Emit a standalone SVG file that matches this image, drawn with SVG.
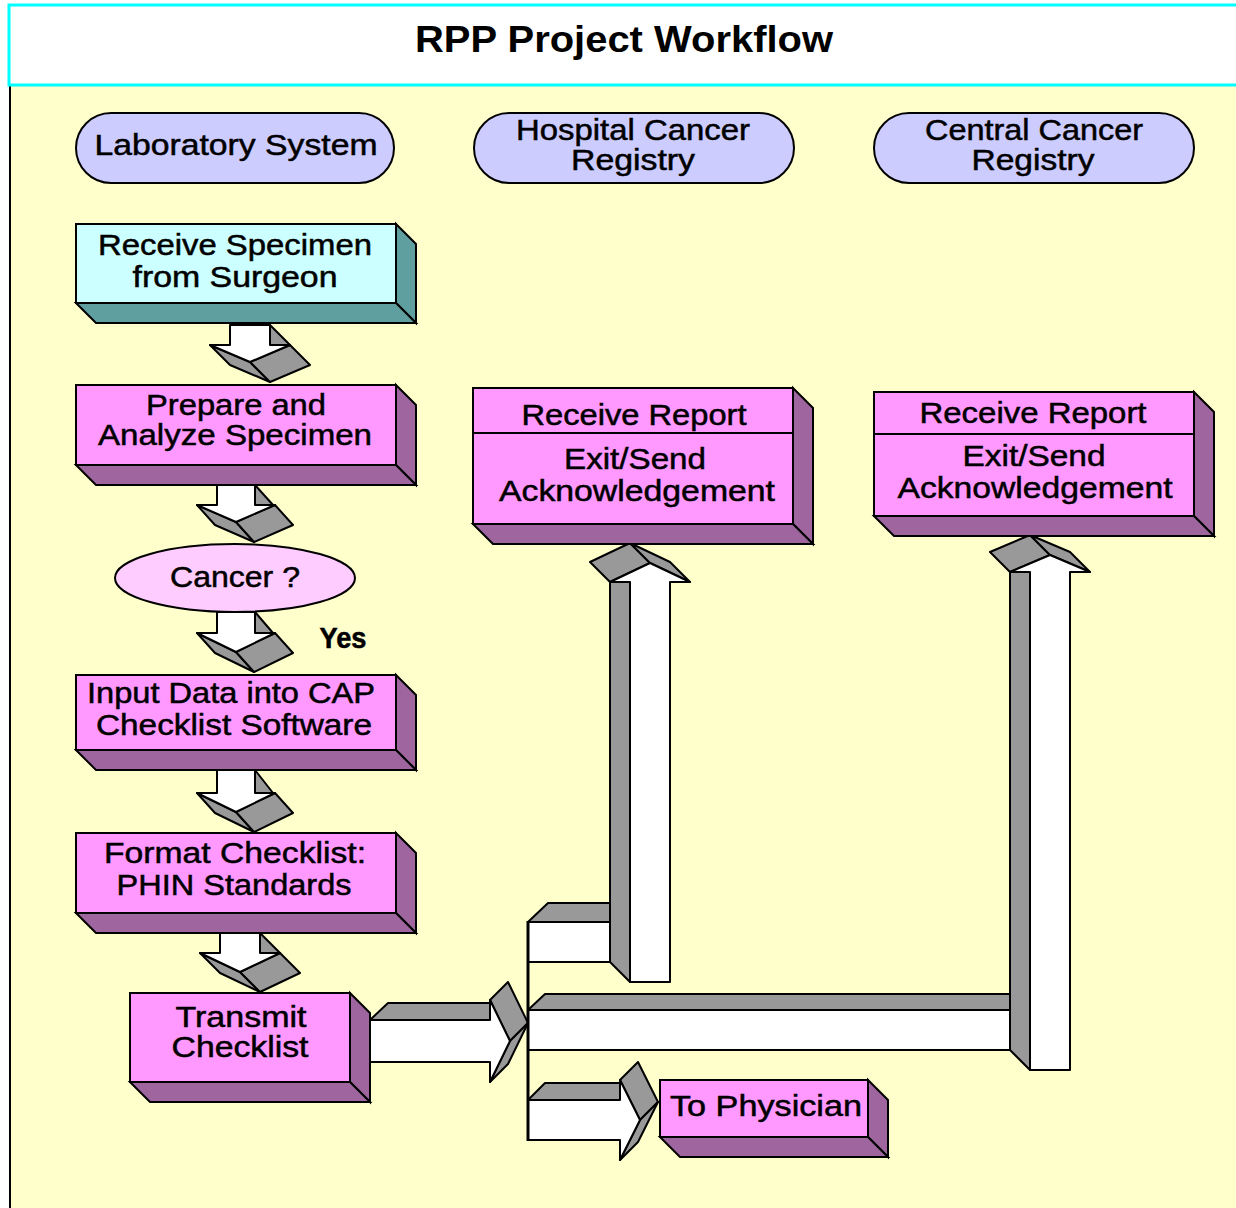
<svg xmlns="http://www.w3.org/2000/svg" width="1236" height="1208" viewBox="0 0 1236 1208">
<style>
.t{font-family:"Liberation Sans",Arial,sans-serif;font-size:29px;fill:#000;stroke:#000;stroke-width:0.5;text-anchor:middle}
.title{font-family:"Liberation Sans",Arial,sans-serif;font-size:37px;font-weight:bold;fill:#000;text-anchor:middle}
.pill{fill:#CCCCFF;stroke:#000;stroke-width:2}
.pf{fill:#FF99FF;stroke:#000;stroke-width:2}
.ps{fill:#9F659F;stroke:#000;stroke-width:2}
.cf{fill:#CCFFFF;stroke:#000;stroke-width:2}
.cs{fill:#5F9F9F;stroke:#000;stroke-width:2}
.w{fill:#FFFFFF;stroke:#000;stroke-width:2;stroke-linejoin:round}
.g{fill:#999999;stroke:#000;stroke-width:2;stroke-linejoin:round}
</style>
<rect x="0" y="0" width="1236" height="1208" fill="#FFFFFF"/>
<rect x="10" y="86" width="1230" height="1130" fill="#FFFFCC"/>
<line x1="10" y1="86" x2="10" y2="1208" stroke="#000" stroke-width="2"/>
<g id="title">
<rect x="9" y="5" width="1240" height="80" fill="#FFFFFF" stroke="#00FFFF" stroke-width="3"/>
<text class="title" x="624" y="52" textLength="418" lengthAdjust="spacingAndGlyphs">RPP Project Workflow</text>
</g>
<g id="lane-lab">
<rect class="pill" x="76" y="113" width="318" height="70" rx="35"/>
<text class="t" x="236" y="155" textLength="283" lengthAdjust="spacingAndGlyphs">Laboratory System</text>
</g>
<g id="lane-hospital">
<rect class="pill" x="474" y="113" width="320" height="70" rx="35"/>
<text class="t" x="633" y="140" textLength="234" lengthAdjust="spacingAndGlyphs">Hospital Cancer</text>
<text class="t" x="633" y="170" textLength="124" lengthAdjust="spacingAndGlyphs">Registry</text>
</g>
<g id="lane-central">
<rect class="pill" x="874" y="113" width="320" height="70" rx="35"/>
<text class="t" x="1034" y="140" textLength="218" lengthAdjust="spacingAndGlyphs">Central Cancer</text>
<text class="t" x="1033" y="170" textLength="123" lengthAdjust="spacingAndGlyphs">Registry</text>
</g>
<g id="connectors">
<!-- A1 -->
<polygon class="g" points="270,325 290,345 290,365 270,345"/>
<polygon class="g" points="210,345 250,362 270,382 230,365"/>
<polygon class="g" points="250,362 290,345 310,365 270,382"/>
<polygon class="w" points="230,325 270,325 270,345 290,345 250,362 210,345 230,345"/>
<!-- A2 -->
<polygon class="g" points="255,485 273,505 273,525 255,505"/>
<polygon class="g" points="197,505 236,522 254,542 215,525"/>
<polygon class="g" points="236,522 275,505 293,525 254,542"/>
<polygon class="w" points="217,485 255,485 255,505 275,505 236,522 197,505 217,505"/>
<!-- A3 -->
<polygon class="g" points="255,612 273,633 273,653 255,633"/>
<polygon class="g" points="197,633 236,652 254,672 215,653"/>
<polygon class="g" points="236,652 275,633 293,653 254,672"/>
<polygon class="w" points="217,612 255,612 255,633 275,633 236,652 197,633 217,633"/>
<!-- A4 -->
<polygon class="g" points="255,770 273,793 273,813 255,793"/>
<polygon class="g" points="197,793 236,812 254,832 215,813"/>
<polygon class="g" points="236,812 275,793 293,813 254,832"/>
<polygon class="w" points="217,770 255,770 255,793 275,793 236,812 197,793 217,793"/>
<!-- A5 -->
<polygon class="g" points="260,933 280,953 280,973 260,953"/>
<polygon class="g" points="200,953 240,972 260,992 220,973"/>
<polygon class="g" points="240,972 280,953 300,973 260,992"/>
<polygon class="w" points="220,933 260,933 260,953 280,953 240,972 200,953 220,953"/>
<!-- Transmit arrow -->
<polygon class="g" points="370,1020 388,1003 490,1003 490,1020"/>
<polygon class="g" points="490,1000 508,982 528,1023 510,1041"/>
<polygon class="g" points="510,1041 528,1023 508,1064 490,1082"/>
<polygon class="w" points="370,1020 490,1020 490,1000 510,1041 490,1082 490,1062 370,1062"/>
<!-- Branch to hospital -->
<polygon class="g" points="528,922 548,903 612,903 612,922"/>
<rect class="w" x="528" y="922" width="82" height="40"/>
<polygon class="g" points="630,582 610,562 610,962 630,982"/>
<polygon class="g" points="610,582 650,563 630,543 590,562"/>
<polygon class="g" points="650,563 690,582 670,562 630,543"/>
<polygon class="w" points="630,982 670,982 670,582 690,582 650,563 610,582 630,582"/>
<!-- Branch to central -->
<polygon class="g" points="528,1010 545,994 1012,994 1012,1010"/>
<rect class="w" x="528" y="1010" width="482" height="40"/>
<polygon class="g" points="1030,572 1010,552 1010,1050 1030,1070"/>
<polygon class="g" points="1010,572 1050,555 1030,535 990,552"/>
<polygon class="g" points="1050,555 1090,572 1070,552 1030,535"/>
<polygon class="w" points="1030,1070 1070,1070 1070,572 1090,572 1050,555 1010,572 1030,572"/>
<!-- Branch to physician -->
<polygon class="g" points="528,1100 545,1083 620,1083 620,1100"/>
<polygon class="g" points="620,1080 638,1062 658,1102 640,1120"/>
<polygon class="g" points="640,1120 658,1102 638,1142 620,1160"/>
<polygon class="w" points="528,1100 620,1100 620,1080 640,1120 620,1160 620,1140 528,1140"/>
<line x1="528" y1="921" x2="528" y2="1141" stroke="#000" stroke-width="3"/>
</g>
<g id="receive-specimen">
<polygon class="cs" points="396,224 416,244 416,323 396,303"/>
<polygon class="cs" points="76,303 96,323 416,323 396,303"/>
<rect class="cf" x="76" y="224" width="320" height="79"/>
<text class="t" x="235" y="255" textLength="274" lengthAdjust="spacingAndGlyphs">Receive Specimen</text>
<text class="t" x="235" y="287" textLength="205" lengthAdjust="spacingAndGlyphs">from Surgeon</text>
</g>
<g id="prepare">
<polygon class="ps" points="396,385 416,405 416,485 396,465"/>
<polygon class="ps" points="76,465 96,485 416,485 396,465"/>
<rect class="pf" x="76" y="385" width="320" height="80"/>
<text class="t" x="236" y="415" textLength="180" lengthAdjust="spacingAndGlyphs">Prepare and</text>
<text class="t" x="235" y="445" textLength="274" lengthAdjust="spacingAndGlyphs">Analyze Specimen</text>
</g>
<g id="cancer">
<ellipse cx="235" cy="578" rx="120" ry="34" fill="#FFCCFF" stroke="#000" stroke-width="2"/>
<text class="t" x="235" y="587" textLength="130" lengthAdjust="spacingAndGlyphs">Cancer ?</text>
</g>
<text class="t" x="343" y="648" font-size="24" font-weight="bold" textLength="47" lengthAdjust="spacingAndGlyphs">Yes</text>
<g id="input-data">
<polygon class="ps" points="396,675 416,695 416,770 396,750"/>
<polygon class="ps" points="76,750 96,770 416,770 396,750"/>
<rect class="pf" x="76" y="675" width="320" height="75"/>
<text class="t" x="231" y="703" textLength="288" lengthAdjust="spacingAndGlyphs">Input Data into CAP</text>
<text class="t" x="234" y="735" textLength="276" lengthAdjust="spacingAndGlyphs">Checklist Software</text>
</g>
<g id="format-checklist">
<polygon class="ps" points="396,833 416,853 416,933 396,913"/>
<polygon class="ps" points="76,913 96,933 416,933 396,913"/>
<rect class="pf" x="76" y="833" width="320" height="80"/>
<text class="t" x="235" y="863" textLength="262" lengthAdjust="spacingAndGlyphs">Format Checklist:</text>
<text class="t" x="234" y="895" textLength="235" lengthAdjust="spacingAndGlyphs">PHIN Standards</text>
</g>
<g id="transmit">
<polygon class="ps" points="350,993 370,1013 370,1102 350,1082"/>
<polygon class="ps" points="130,1082 150,1102 370,1102 350,1082"/>
<rect class="pf" x="130" y="993" width="220" height="89"/>
<text class="t" x="241" y="1027" textLength="131" lengthAdjust="spacingAndGlyphs">Transmit</text>
<text class="t" x="240" y="1057" textLength="137" lengthAdjust="spacingAndGlyphs">Checklist</text>
</g>
<g id="hospital-receive">
<polygon class="ps" points="793,388 813,408 813,544 793,524"/>
<polygon class="ps" points="473,524 493,544 813,544 793,524"/>
<rect class="pf" x="473" y="388" width="320" height="136"/>
<line x1="473" y1="433" x2="793" y2="433" stroke="#000" stroke-width="2"/>
<text class="t" x="634" y="425" textLength="225" lengthAdjust="spacingAndGlyphs">Receive Report</text>
<text class="t" x="635" y="469" textLength="142" lengthAdjust="spacingAndGlyphs">Exit/Send</text>
<text class="t" x="637" y="501" textLength="276" lengthAdjust="spacingAndGlyphs">Acknowledgement</text>
</g>
<g id="central-receive">
<polygon class="ps" points="1194,392 1214,412 1214,536 1194,516"/>
<polygon class="ps" points="874,516 894,536 1214,536 1194,516"/>
<rect class="pf" x="874" y="392" width="320" height="124"/>
<line x1="874" y1="434" x2="1194" y2="434" stroke="#000" stroke-width="2"/>
<text class="t" x="1033" y="423" textLength="227" lengthAdjust="spacingAndGlyphs">Receive Report</text>
<text class="t" x="1034" y="466" textLength="143" lengthAdjust="spacingAndGlyphs">Exit/Send</text>
<text class="t" x="1035" y="498" textLength="275" lengthAdjust="spacingAndGlyphs">Acknowledgement</text>
</g>
<g id="physician">
<polygon class="ps" points="868,1080 888,1100 888,1157 868,1137"/>
<polygon class="ps" points="660,1137 680,1157 888,1157 868,1137"/>
<rect class="pf" x="660" y="1080" width="208" height="57"/>
<text class="t" x="766" y="1116" textLength="192" lengthAdjust="spacingAndGlyphs">To Physician</text>
</g>
</svg>
